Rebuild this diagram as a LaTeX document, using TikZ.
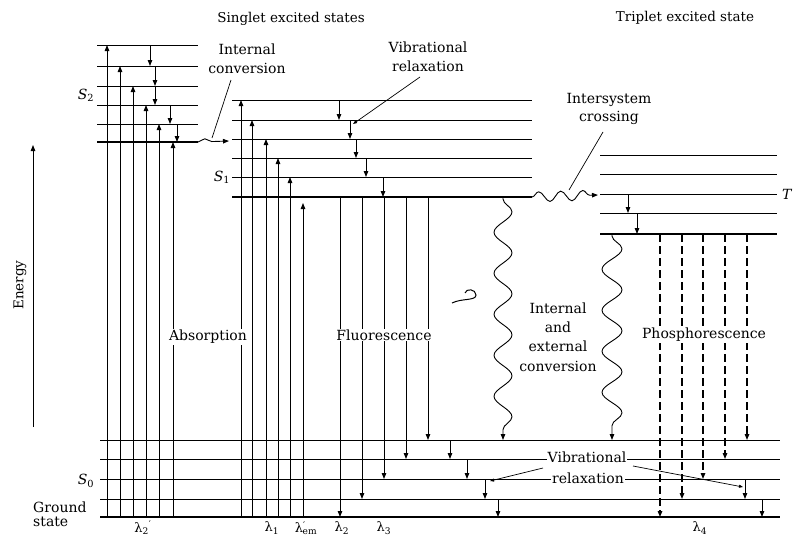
\documentclass[tikz,border=0pt]{standalone}
\usepackage{fontspec}
\setmainfont{DejaVu Serif}
\usetikzlibrary{arrows.meta,decorations.pathmorphing}
\begin{document}
\begin{tikzpicture}[x=1pt,y=-1pt,
  lvl/.style={line width=0.9pt},
  lvlthick/.style={line width=2.6pt},
  tip/.style={-{Triangle[length=6pt,width=4.5pt]}},
  arr/.style={line width=0.9pt,tip},
  pharr/.style={line width=1.3pt,dash pattern=on 8pt off 4pt,tip},
  wavy/.style={line width=0.9pt,tip,decorate,decoration={snake,amplitude=#1,segment length=41pt,pre length=2pt,post length=7pt}},
  hwavy/.style={line width=0.9pt,tip,decorate,decoration={snake,amplitude=#1,segment length=22pt,post length=8pt}},
  lbl/.style={font=\fontsize{14}{19}\selectfont,inner sep=1pt,align=center},
  wlbl/.style={lbl,fill=white},
  wl/.style={font=\fontsize{13}{15}\selectfont,inner sep=0pt},
  ttl/.style={font=\fontsize{13.5}{16}\selectfont,inner sep=0pt},
  leader/.style={line width=0.7pt},
]
\useasboundingbox (0,0) rectangle (794,538);

% ---- levels ----
\foreach \y in {45,66,86,105,124} \draw[lvl] (97,\y) -- (198,\y);
\draw[lvlthick] (97,142) -- (198,142);
\foreach \y in {100,120,139,158,177} \draw[lvl] (232,\y) -- (532,\y);
\draw[lvlthick] (232,197) -- (532,197);
\foreach \y in {155,174,194,213} \draw[lvl] (600,\y) -- (777,\y);
\draw[lvlthick] (600,234) -- (777,234);
\foreach \y in {440,459,479,499} \draw[lvl] (100,\y) -- (780,\y);
\draw[lvlthick] (100,517) -- (780,517);

% ---- absorption ----
\foreach \x/\y in {107/45,120/66,133/86,146/105,159/124,173/142,241/100,252/120,266/139,278/158,290/177,303/203}
  \draw[arr] (\x,517) -- (\x,\y);

% ---- vibrational relaxation (excited) ----
\foreach \x/\a/\b in {150/45/66,155/66/86,155/86/105,170/105/124,177/124/142,
  339/100/120,350/120/139,356/139/158,366/158/177,383/177/197,
  628/194/213,637/213/234}
  \draw[arr] (\x,\a) -- (\x,\b);

% ---- fluorescence ----
\foreach \x/\y in {340/517,362/499,384/479,406/459,428/440}
  \draw[arr] (\x,197) -- (\x,\y);

% ---- phosphorescence ----
\foreach \x/\y in {660/517,682/499,703/479,725/459,747/440}
  \draw[pharr] (\x,234) -- (\x,\y);

% ---- vibrational relaxation (ground) ----
\foreach \x/\a/\b in {450/440/459,467/459/479,485/479/499,498/499/517,745/479/499,762/499/517}
  \draw[arr] (\x,\a) -- (\x,\b);

% ---- wavy transitions ----
\draw[hwavy=3pt] (198,142) -- (229,141);
\draw[hwavy=5pt] (532,197) -- (598,195);
\draw[wavy=9pt] (503,197) -- (503,440);
\draw[wavy=10pt] (612,234) -- (612,440);

% small mark
\draw[line width=1pt] (452,303) .. controls (462,298) and (476,301) .. (476,295)
  .. controls (476,289) and (466,288) .. (465,293);

% ---- energy axis ----
\coordinate (e0) at (33,427);
\coordinate (e1) at (33,145);
\draw[arr] (e0) -- (e1);
\node[ttl,rotate=90] (energy) at (20,285) {Energy};

% ---- titles ----
\node[ttl] (singlet) at (291,19) {Singlet excited states};
\node[ttl] (triplet) at (685,18) {Triplet excited state};

% ---- state labels ----
\node[lbl] (s2) at (86,95) {\textit{S}\textsubscript{2}};
\node[lbl] (s1) at (222,177) {\textit{S}\textsubscript{1}};
\node[lbl] (s0) at (86,481) {\textit{S}\textsubscript{0}};
\node[lbl,anchor=west] (t1) at (781,194) {\textit{T}};
\node[lbl,anchor=west,align=left] (gs) at (32,514) {Ground\\[-5pt]state};

% ---- process labels ----
\node[lbl] (ic) at (247,59) {Internal\\conversion};
\coordinate (ic1) at (231,80);
\coordinate (ic2) at (212,138);
\draw[leader] (ic1) -- (ic2);

\node[lbl] (vr) at (428,57) {Vibrational\\relaxation};
\coordinate (vr1) at (420,77);
\coordinate (vr2) at (353,124);
\draw[leader,-{Triangle[length=4pt,width=3pt]}] (vr1) -- (vr2);

\node[lbl,font=\fontsize{14}{18}\selectfont] (isc) at (609,109) {Intersystem\\crossing};
\coordinate (isc1) at (603,132);
\coordinate (isc2) at (569,190);
\draw[leader] (isc1) -- (isc2);

\node[wlbl] (abs) at (208,337) {Absorption};
\node[wlbl] (flu) at (384,335) {Fluorescence};
\node[wlbl] (pho) at (704,335) {Phosphorescence};
\node[lbl,font=\fontsize{14}{19.3}\selectfont] (iec) at (558,337) {Internal\\and\\external\\conversion};

\node[wlbl] (vib) at (587,457) {Vibrational};
\node[wlbl] (rel) at (588,478) {relaxation};
\coordinate (vl1) at (543,468);
\coordinate (vl2) at (490,481);
\coordinate (vr3) at (633,466);
\coordinate (vr4) at (743,487);
\draw[leader,-{Triangle[length=4pt,width=3pt]}] (vl1) -- (vl2);
\draw[leader,-{Triangle[length=4pt,width=3pt]}] (vr3) -- (vr4);

% ---- wavelength labels ----
\node[wl] (l2p) at (143,528) {λ\textsubscript{2}\textsuperscript{′}};
\node[wl] (l1) at (272,528) {λ\textsubscript{1}};
\node[wl] (lem) at (306,528) {λ\textsuperscript{′}\kern-3pt\textsubscript{em}};
\node[wl] (l2) at (342,528) {λ\textsubscript{2}};
\node[wl] (l3) at (384,528) {λ\textsubscript{3}};
\node[wl] (l4) at (700,528) {λ\textsubscript{4}};
\end{tikzpicture}
\end{document}
